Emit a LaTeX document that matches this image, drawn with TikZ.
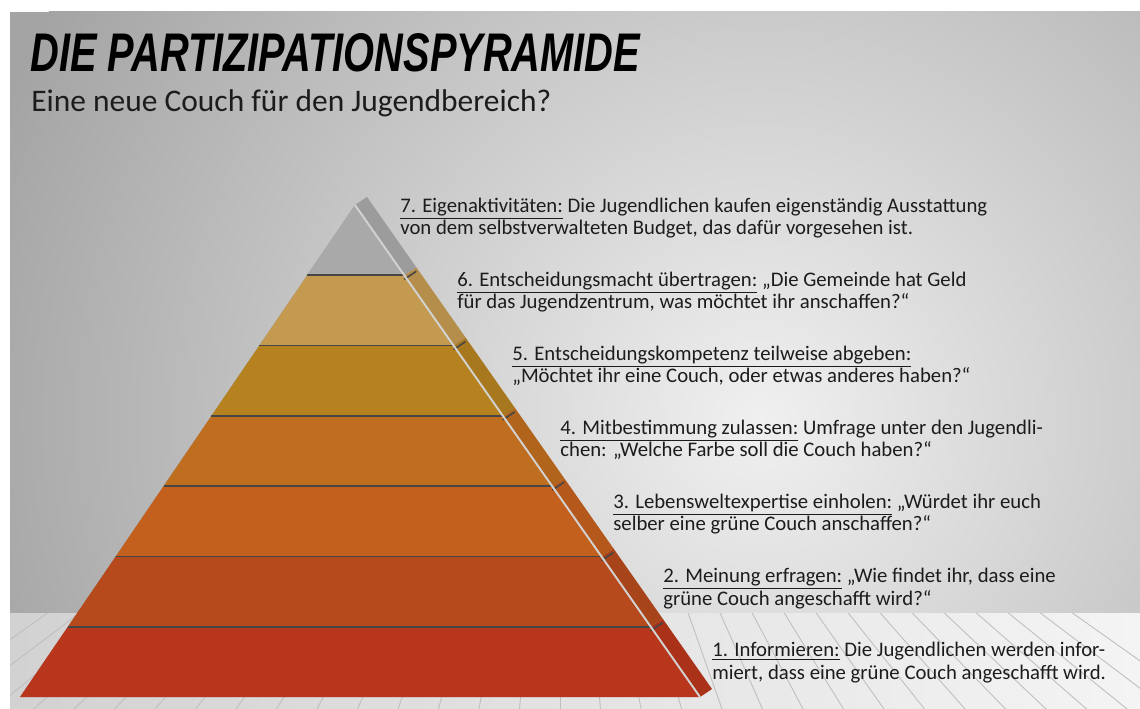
\documentclass[tikz,border=0pt]{standalone}
\usepackage{fontspec}
\setmainfont{Carlito}
\newfontfamily\titlefont{Liberation Sans}
\usetikzlibrary{calc,positioning}

\definecolor{wallDark}{HTML}{A4A4A4}
\definecolor{wallLight}{HTML}{F0F0F0}
\definecolor{floorLight}{HTML}{F4F4F4}
\definecolor{floorDark}{HTML}{D2D2D2}
\definecolor{lvlA}{HTML}{B8361B}
\definecolor{lvlB}{HTML}{B64A1C}
\definecolor{lvlC}{HTML}{C3601E}
\definecolor{lvlD}{HTML}{BF6D1E}
\definecolor{lvlE}{HTML}{B5821F}
\definecolor{lvlF}{HTML}{C49A50}
\definecolor{lvlG}{HTML}{A9A9A9}
\definecolor{txt}{HTML}{1C1C1C}

\tikzset{
  label/.style={anchor=base west,inner sep=0pt,align=left,text=txt,
    font=\fontsize{11.8}{12.8}\selectfont},
  seam/.style={draw=gray!55!black,line width=0.9pt},
  edgeline/.style={draw=gray!35,line width=1.1pt},
  plank/.style={draw=gray!50,line width=0.5pt}
}

\begin{document}
\begin{tikzpicture}[x=0.02cm,y=-0.02cm]
\useasboundingbox (0,0) rectangle (1140,709);
\fill[white] (0,0) rectangle (1140,709);

% wall
\begin{scope}
  \clip (10,12) rectangle (1140,613);
  \fill[wallDark] (10,12) rectangle (1140,613);
  \shade[inner color=wallLight,outer color=wallDark] (760,420) circle (820);
\end{scope}

% floor
\begin{scope}
  \clip (10,613) rectangle (1140,709);
  \shade[left color=floorDark,right color=floorLight] (10,613) rectangle (1140,709);
  \foreach \i in {-16,...,16}
    \draw[plank] (560,250) -- ($(560,250)!3!(560+\i*15,420)$);
\end{scope}

% pyramid
\coordinate (A) at (355,205);
\coordinate (L) at (20,697);
\coordinate (R) at (700,697);

\foreach \s in {5,10,15,20,25}
  \fill[black,opacity=0.045,shift={(\s,0)}] (A) -- (L) -- (R) -- cycle;

\foreach \j/\k/\col in {0/1/lvlA,1/2/lvlB,2/3/lvlC,3/4/lvlD,4/5/lvlE,5/6/lvlF,6/7/lvlG} {
  \fill[\col] ($(L)!\j/7!(A)$) -- ($(L)!\k/7!(A)$) -- ($(R)!\k/7!(A)$) -- ($(R)!\j/7!(A)$) -- cycle;
  \fill[\col!92!black] ($(R)!\j/7!(A)$) -- ($(R)!\k/7!(A)$) -- ($(R)!\k/7!(A)+(12,-8)$) -- ($(R)!\j/7!(A)+(12,-8)$) -- cycle;
}
\foreach \j in {1,...,6} {
  \draw[seam] ($(L)!\j/7!(A)$) -- ($(R)!\j/7!(A)$);
  \draw[seam] ($(R)!\j/7!(A)+(0,4)$) -- ($(R)!\j/7!(A)+(12,-4)$);
}
\draw[edgeline] (R) -- (A);

% title
\node[anchor=north west,inner sep=0pt] (title) at (30,33)
  {\resizebox{12.2cm}{0.76cm}{\titlefont\bfseries\itshape DIE PARTIZIPATIONSPYRAMIDE}};
\node[anchor=base west,inner sep=0pt,text=txt,font=\fontsize{17.9}{21}\selectfont] (sub) at (31,112)
  {Eine neue Couch für den Jugendbereich?};

% labels (base = second line)
\node[label] (l7) at (400,235) {\underline{7. Eigenaktivitäten:} Die Jugendlichen kaufen eigenständig Ausstattung\\von dem selbstverwalteten Budget, das dafür vorgesehen ist.};
\node[label] (l6) at (457,309) {\underline{6. Entscheidungsmacht übertragen:} „Die Gemeinde hat Geld\\für das Jugendzentrum, was möchtet ihr anschaffen?“};
\node[label] (l5) at (512,383) {\underline{5. Entscheidungskompetenz teilweise abgeben:}\\„Möchtet ihr eine Couch, oder etwas anderes haben?“};
\node[label] (l4) at (560,457) {\underline{4. Mitbestimmung zulassen:} Umfrage unter den Jugendli-\\chen: „Welche Farbe soll die Couch haben?“};
\node[label] (l3) at (613,531) {\underline{3. Lebensweltexpertise einholen:} „Würdet ihr euch\\selber eine grüne Couch anschaffen?“};
\node[label] (l2) at (663,605) {\underline{2. Meinung erfragen:} „Wie findet ihr, dass eine\\grüne Couch angeschafft wird?“};
\node[label] (l1) at (712,679) {\underline{1. Informieren:} Die Jugendlichen werden infor-\\miert, dass eine grüne Couch angeschafft wird.};
\end{tikzpicture}
\end{document}
